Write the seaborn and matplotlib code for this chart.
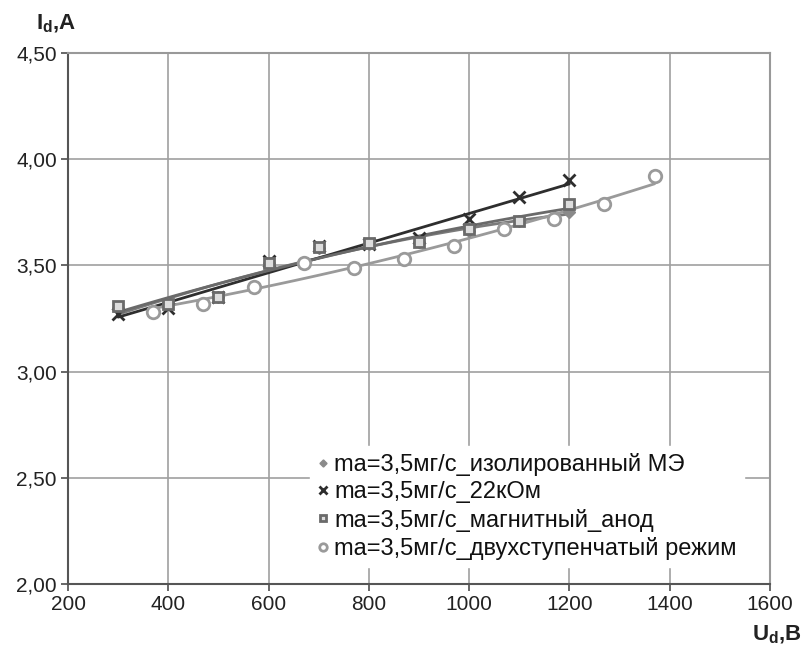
import numpy as np
import pandas as pd
import matplotlib
matplotlib.use("Agg")
import matplotlib.pyplot as plt
import seaborn as sns

# Data
x_main = [300, 400, 500, 600, 700, 800, 900, 1000, 1100, 1200]
y_iso = [3.30, 3.32, 3.35, 3.51, 3.58, 3.60, 3.61, 3.66, 3.71, 3.75]
y_22k = [3.27, 3.30, 3.35, 3.52, 3.59, 3.60, 3.63, 3.72, 3.82, 3.90]
y_mag = [3.31, 3.32, 3.35, 3.51, 3.585, 3.605, 3.61, 3.67, 3.71, 3.79]
x_two = [370, 470, 570, 670, 770, 870, 970, 1070, 1170, 1270, 1370]
y_two = [3.28, 3.32, 3.40, 3.51, 3.49, 3.53, 3.59, 3.67, 3.72, 3.79, 3.92]

labels = ["ma=3,5мг/с_изолированный МЭ",
          "ma=3,5мг/с_22кОм",
          "ma=3,5мг/с_магнитный_анод",
          "ma=3,5мг/с_двухступенчатый режим"]
xticks = [200, 400, 600, 800, 1000, 1200, 1400, 1600]
yticks = [2.00, 2.50, 3.00, 3.50, 4.00, 4.50]

sns.set_theme(style="white")
plt.rcParams['font.family'] = ['Liberation Sans', 'DejaVu Sans']

fig = plt.figure(figsize=(8.04, 6.54), dpi=100)
ax = fig.add_axes([0.0846, 0.107, 0.873, 0.812])

series = [
    (x_main, y_iso, labels[0], "D", "#8a8a8a", "#7a7a7a", 2, 6, 1.0),
    (x_main, y_22k, labels[1], "x", "#2e2e2e", "#2e2e2e", 1, 9, 2.0),
    (x_main, y_mag, labels[2], "s", "#6a6a6a", "#6a6a6a", 2, 7, 2.0),
    (x_two, y_two, labels[3], "o", "#9a9a9a", "#9a9a9a", 2, 9, 2.0),
]

for xs, ys, lab, mk, mc, lc, deg, ms, mew in series:
    df = pd.DataFrame({"x": xs, "y": ys})
    coef = np.polyfit(df["x"], df["y"], deg)
    xx = np.linspace(min(xs), max(xs), 100)
    sns.lineplot(x=xx, y=np.polyval(coef, xx), ax=ax, color=lc, lw=2.0,
                 legend=False, zorder=2)
    if mk == "x":
        ax.plot(df["x"], df["y"], ls="none", marker=mk, ms=ms, mew=mew,
                color=mc, label=lab, zorder=3)
    elif mk == "D":
        ax.plot(df["x"], df["y"], ls="none", marker=mk, ms=ms,
                color=mc, mec=mc, label=lab, zorder=3)
    else:
        ax.plot(df["x"], df["y"], ls="none", marker=mk, ms=ms, mew=mew,
                mfc="white" if mk == "o" else "#dddddd", mec=mc,
                label=lab, zorder=3)

ax.set_xlim(200, 1600)
ax.set_ylim(2.0, 4.5)
ax.set_xticks(xticks)
ax.set_yticks(yticks)
ax.set_xticklabels([str(t) for t in xticks], fontsize=15)
ax.set_yticklabels([f"{t:.2f}".replace(".", ",") for t in yticks], fontsize=15)
ax.grid(True, color="#a0a0a0", lw=1.2)
ax.set_axisbelow(True)
ax.tick_params(axis="both", which="both", length=5, color="#555555",
               direction="out", bottom=True, left=True, pad=3, labelcolor="#222222")
for s in ["left", "bottom"]:
    ax.spines[s].set_color("#555555")
    ax.spines[s].set_linewidth(1.5)
for s in ["top", "right"]:
    ax.spines[s].set_color("#999999")
    ax.spines[s].set_linewidth(1.5)

fig.text(0.045, 0.963, r"I$_\mathregular{d}$,A", fontsize=16, fontweight="bold",
         color="#222222", va="center")
fig.text(0.935, 0.012, r"U$_\mathregular{d}$,B", fontsize=16, fontweight="bold",
         color="#222222", va="bottom")

leg = ax.legend(loc="lower right", bbox_to_anchor=(0.98, 0.01), frameon=True,
                framealpha=1, edgecolor="white", facecolor="white",
                fontsize=17, handlelength=0.5, handletextpad=0.25,
                labelspacing=0.22, borderpad=0.3, markerscale=0.6)
for t in leg.get_texts():
    t.set_color("#111111")

fig.savefig("out.png", dpi=100)
